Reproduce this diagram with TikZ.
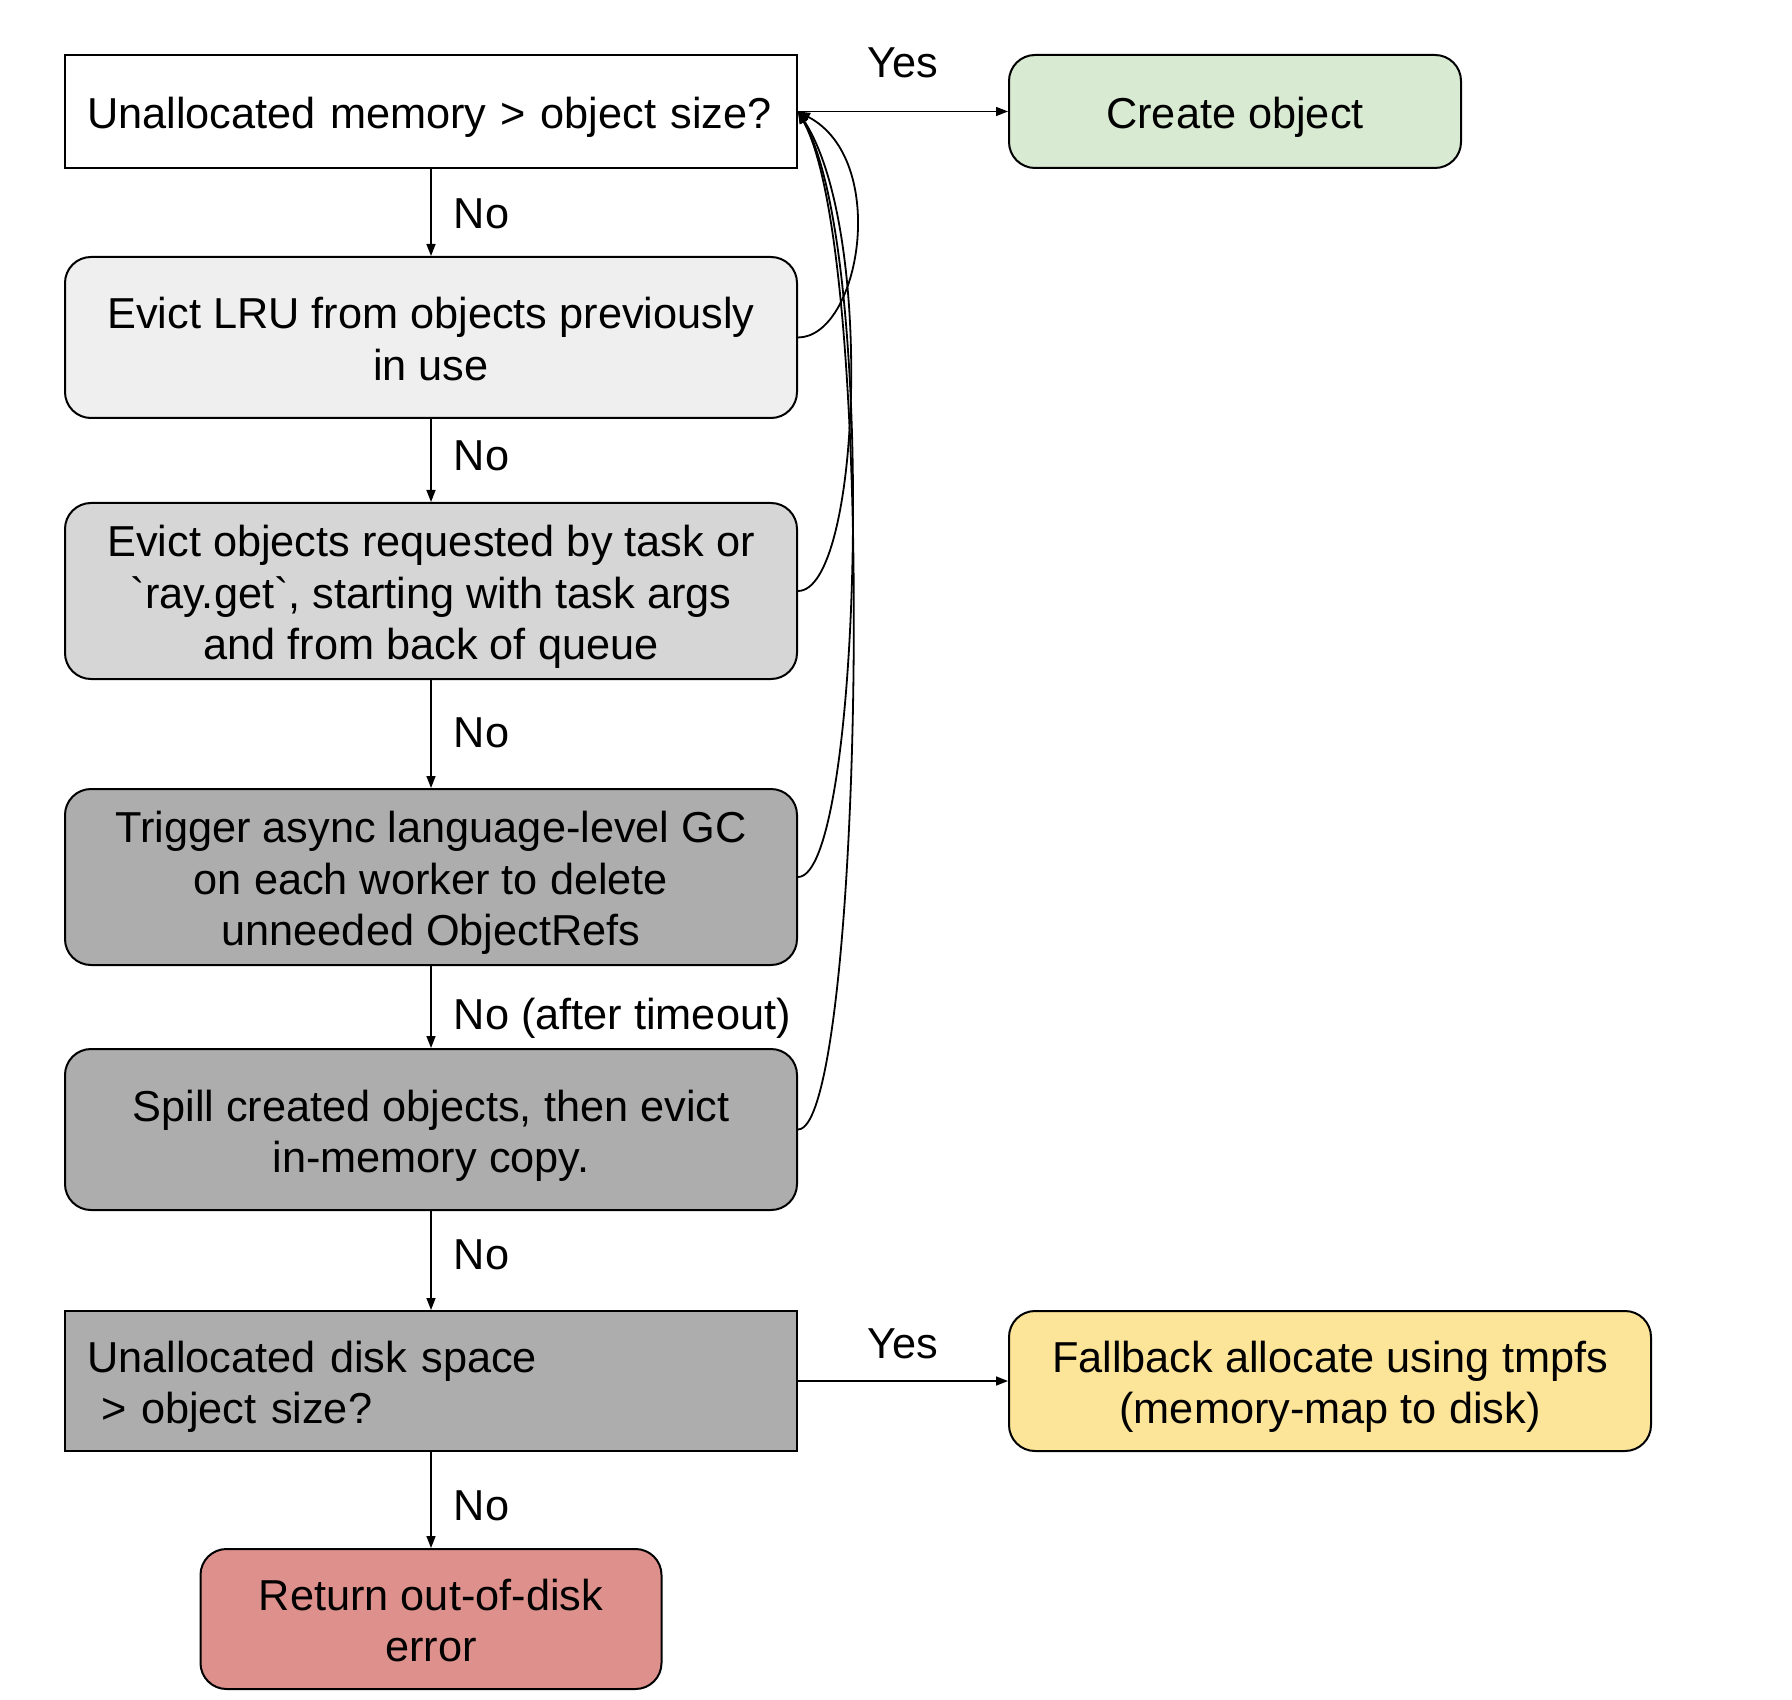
\documentclass[tikz,border=0pt]{standalone}
\usepackage{fontspec}
\setmainfont{Liberation Sans}[Ligatures=TeXOff]
\usetikzlibrary{arrows.meta}
\definecolor{cWhite}{HTML}{FFFFFF}
\definecolor{cLight}{HTML}{EFEFEF}
\definecolor{cMid}{HTML}{D6D6D6}
\definecolor{cDark}{HTML}{ADADAD}
\definecolor{cGreen}{HTML}{D9EAD3}
\definecolor{cYellow}{HTML}{FCE598}
\definecolor{cRed}{HTML}{DE918C}
\newcommand\hs{\rule{0pt}{22.2pt}}
\newcommand\ds{\rule[-5pt]{0pt}{5pt}}
\begin{document}
\begin{tikzpicture}[x=0.5pt,y=-0.5pt,
  txt/.style={font=\fontsize{21.65pt}{25.7pt}\selectfont},
  box/.style={txt, draw=black, line width=1pt, align=center, inner sep=0pt, text=black},
  rbox/.style={box, rounded corners=13pt},
  lbox/.style={box, align=left, inner xsep=11pt, text width=344pt},
  arr/.style={-{Triangle[length=6pt,width=4.5pt]}, line width=0.8pt},
  cur/.style={-{Triangle[length=6pt,width=4.5pt]}, line width=0.9pt},
  lbl/.style={txt, inner sep=0pt},
  nolbl/.style={lbl, anchor=base west, xshift=11pt},
  yeslbl/.style={lbl, anchor=base}]
\useasboundingbox[fill=white] (0,0) rectangle (1792,1700);

\node[lbox, fill=cWhite, minimum height=56.5pt] (b1) at (431,111.5) {\hs Unallocated memory > object size?\ds};
\node[rbox, fill=cGreen, minimum width=226pt, minimum height=56.5pt] (cr) at (1235,111.5) {\hs Create object\ds};
\node[rbox, fill=cLight, minimum width=366pt, minimum height=80.5pt] (b2) at (431,337.5) {\hs Evict LRU from objects previously\\in use\ds};
\node[rbox, fill=cMid, minimum width=366pt, minimum height=88pt] (b3) at (431,591) {\hs Evict objects requested by task or\\`ray.get`, starting with task args\\and from back of queue\ds};
\node[rbox, fill=cDark, minimum width=366pt, minimum height=88pt] (b4) at (431,877) {\hs Trigger async language-level GC\\on each worker to delete\\unneeded ObjectRefs\ds};
\node[rbox, fill=cDark, minimum width=366pt, minimum height=80.5pt] (b5) at (431,1129.5) {\hs Spill created objects, then evict\\in-memory copy.\ds};
\node[lbox, fill=cDark, minimum height=70pt] (b6) at (431,1381) {\hs Unallocated disk space\\~> object size?\ds};
\node[rbox, fill=cYellow, minimum width=321pt, minimum height=70pt] (fb) at (1330,1381) {\hs Fallback allocate using tmpfs\\(memory-map to disk)\ds};
\node[rbox, fill=cRed, minimum width=230.5pt, minimum height=70pt] (er) at (431,1619) {\hs Return out-of-disk\\error\ds};

\draw[arr] (b1) -- node[yeslbl, yshift=17pt] {Yes} (cr);
\draw[arr] (b1) -- node[nolbl, yshift=-8.1pt] {No} (b2);
\draw[arr] (b2) -- node[nolbl, yshift=-5.1pt] {No} (b3);
\draw[arr] (b3) -- node[nolbl, yshift=-6.75pt] {No} (b4);
\draw[arr] (b4) -- node[nolbl, yshift=-11.1pt] {No (after timeout)} (b5);
\draw[arr] (b5) -- node[nolbl, yshift=-4.4pt] {No} (b6);
\draw[arr] (b6) -- node[yeslbl, yshift=11.2pt] {Yes} (fb);
\draw[arr] (b6) -- node[nolbl, yshift=-10pt] {No} (er);

\draw[cur] (b2.east) .. controls (860,337) and (890,160) .. (b1.east);
\draw[cur] (b3.east) .. controls (860,591) and (875,230) .. (b1.east);
\draw[cur] (b4.east) .. controls (862,877) and (878,250) .. (b1.east);
\draw[cur] (b5.east) .. controls (862,1130) and (880,260) .. (b1.east);
\end{tikzpicture}
\end{document}
